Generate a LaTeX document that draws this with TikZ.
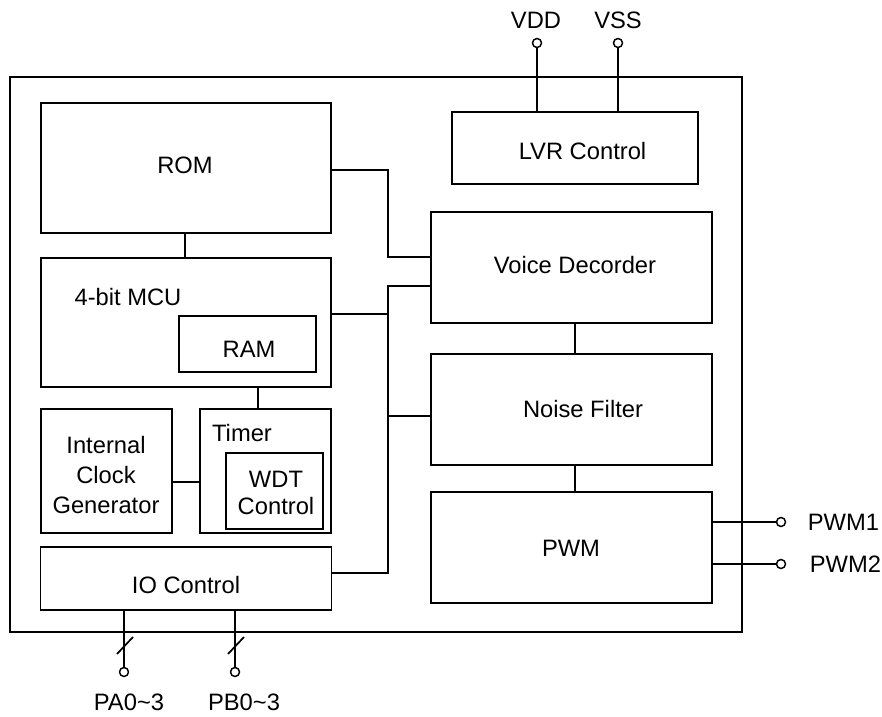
\documentclass[tikz,border=0pt]{standalone}
\usepackage{fontspec}
\setmainfont{Liberation Sans}
\begin{document}
\begin{tikzpicture}[x=0.75pt,y=-0.75pt, line width=1.3pt,
  bx/.style 2 args={draw, rectangle, inner sep=0pt, outer sep=0pt, minimum width={#1*0.75pt}, minimum height={#2*0.75pt}},
  txt/.style={font=\fontsize{17.8}{22}\selectfont, inner sep=0pt, anchor=base},
  pin/.style={draw, circle, fill=white, inner sep=0pt, minimum size=6.75pt, line width=1.1pt},
  lbl/.style={font=\fontsize{17.8}{22}\selectfont, inner sep=0pt}]
\useasboundingbox (0,0) rectangle (882,717);
% boxes
\node[bx={732}{555}] (chip) at (376,354.5) {};
\node[bx={290}{130}] (rom) at (186,168) {};
\node[bx={290}{129}] (mcu) at (186,322.5) {};
\node[bx={137}{56}] (ram) at (247.5,344) {};
\node[bx={131}{124}] (icg) at (106.5,471) {};
\node[bx={131}{124}] (timer) at (265.5,471) {};
\node[bx={97}{76}] (wdt) at (274.5,491) {};
\node[bx={291}{63}] (io) at (186,578.5) {};
\node[bx={246}{72}] (lvr) at (575,148) {};
\node[bx={281}{111}] (vd) at (571.5,267.5) {};
\node[bx={281}{111}] (nf) at (571.5,409.5) {};
\node[bx={281}{111}] (pwm) at (571.5,547.5) {};
% texts
\node[txt] (tRom) at (185,173.5) {ROM};
\node[txt] (tMcu) at (128,305.5) {4-bit MCU};
\node[txt] (tRam) at (249,357.5) {RAM};
\node[lbl, align=center, font=\fontsize{17.8}{22.5}\selectfont] (tIcg) at (106,475) {Internal\\Clock\\Generator};
\node[txt] (tTimer) at (242,441.5) {Timer};
\node[lbl, align=center, font=\fontsize{17.8}{20.25}\selectfont] (tWdt) at (276,492.5) {WDT\\Control};
\node[txt] (tIo) at (186,593.5) {IO Control};
\node[txt] (tLvr) at (582.5,159.5) {LVR Control};
\node[txt] (tVd) at (575,273.5) {Voice Decorder};
\node[txt] (tNf) at (583,417.5) {Noise Filter};
\node[txt] (tPwm) at (571,556.5) {PWM};
% helper coordinates
\coordinate (bus) at (388,0);
\coordinate (xrm) at (185,0);
\coordinate (xmt) at (258,0);
\coordinate (xvn) at (575,0);
\coordinate (yrom) at (0,170);
\coordinate (yvd1) at (0,257);
\coordinate (yvd2) at (0,286);
\coordinate (ymcu) at (0,314);
\coordinate (ynf) at (0,416);
\coordinate (yio) at (0,573);
\coordinate (yck) at (0,482);
\coordinate (yp1) at (0,522);
\coordinate (yp2) at (0,564);
% internal connectors
\draw (rom.south -| xrm) -- (mcu.north -| xrm);
\draw (mcu.south -| xmt) -- (timer.north -| xmt);
\draw (icg.east |- yck) -- (timer.west |- yck);
\draw (rom.east |- yrom) -| (bus |- yvd1) -- (vd.west |- yvd1);
\draw (vd.west |- yvd2) -| (bus |- yio) -- (io.east |- yio);
\draw (mcu.east |- ymcu) -- (bus |- ymcu);
\draw (nf.west |- ynf) -- (bus |- ynf);
\draw (vd.south -| xvn) -- (nf.north -| xvn);
\draw (nf.south -| xvn) -- (pwm.north -| xvn);
% pins
\node[pin] (vdd) at (537,43) {};
\node[pin] (vss) at (618,43) {};
\node[pin] (p1) at (781,522) {};
\node[pin] (p2) at (781,564) {};
\node[pin] (pa) at (124,672) {};
\node[pin] (pb) at (235,672) {};
\draw (lvr.north -| vdd) -- (vdd);
\draw (lvr.north -| vss) -- (vss);
\draw (pwm.east |- yp1) -- (p1);
\draw (pwm.east |- yp2) -- (p2);
\draw (io.south -| pa) -- (pa);
\draw (io.south -| pb) -- (pb);
\coordinate (sa1) at (117,654);
\coordinate (sa2) at (133,637);
\coordinate (sb1) at (228,654);
\coordinate (sb2) at (244,637);
\draw (sa1) -- (sa2);
\draw (sb1) -- (sb2);
% pin labels
\node[txt] (lVdd) at (536,28.5) {VDD};
\node[txt] (lVss) at (618,28.5) {VSS};
\node[lbl, anchor=base west] (lP1) at (807,530.5) {PWM1};
\node[lbl, anchor=base west] (lP2) at (809,572.5) {PWM2};
\node[txt] (lPa) at (129,710.5) {PA0\textasciitilde 3};
\node[txt] (lPb) at (244,710.5) {PB0\textasciitilde 3};
\end{tikzpicture}
\end{document}
